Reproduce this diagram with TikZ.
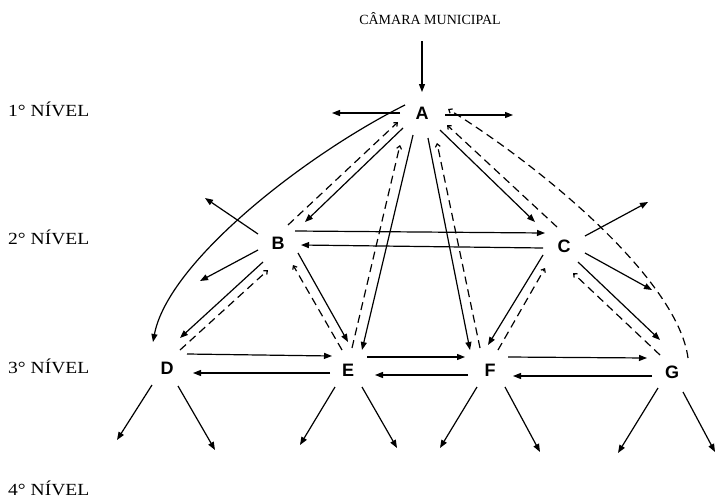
\documentclass[tikz,border=0pt]{standalone}
\usepackage{fontspec}
\setmainfont{Liberation Serif}
\newfontfamily\lettfont{Liberation Sans}
\usetikzlibrary{arrows.meta,calc}
\tikzset{
  letter/.style={font=\lettfont\bfseries\fontsize{18}{18}\selectfont, inner sep=0pt},
  level/.style={anchor=base west, inner sep=0pt, font=\fontsize{17}{17}\selectfont},
  sarr/.style={line width=1.2pt, -{Triangle[length=8pt,width=6pt]}},
  darr/.style={line width=1.2pt, dash pattern=on 8pt off 5pt, -{Straight Barb[length=3pt,width=5pt]}},
}
\begin{document}
\begin{tikzpicture}[x=1pt,y=-1pt]
\useasboundingbox (0,0) rectangle (717,498);
% nodes
\node[letter] (A) at (422,113) {A};
\node[letter] (B) at (278,243) {B};
\node[letter] (C) at (564,246) {C};
\node[letter] (D) at (167,368) {D};
\node[letter] (E) at (348,370) {E};
\node[letter] (F) at (490,370) {F};
\node[letter] (G) at (672,372) {G};
\node[inner sep=0pt, font=\fontsize{14}{14}\selectfont] (CM) at (430,19) {CÂMARA MUNICIPAL};
\node[level] (L1) at (8,116) {\scalebox{1.15}[1]{1° NÍVEL}};
\node[level] (L2) at (8,244) {\scalebox{1.15}[1]{2° NÍVEL}};
\node[level] (L3) at (8,373) {\scalebox{1.15}[1]{3° NÍVEL}};
\node[level] (L4) at (8,495) {\scalebox{1.15}[1]{4° NÍVEL}};
% from Camara to A
\draw[sarr] ($(A)+(0,-72)$) -- ($(A)+(0,-21)$);
% A stubs
\draw[sarr] ($(A)+(-22,0)$) -- ($(A)+(-90,0)$);
\draw[sarr] ($(A)+(23,2)$) -- ($(A)+(91,2)$);
% A - B
\draw[sarr] ($(A)+(-19,15)$) -- ($(B)+(27,-21)$);
\draw[darr] ($(B)+(10,-18)$) -- ($(A)+(-24,9)$);
% A - D curve
\draw[sarr] ($(A)+(-17,-8)$) .. controls (305,155) and (168,262) .. ($(D)+(-14,-26)$);
% A - C
\draw[sarr] ($(A)+(18,17)$) -- ($(C)+(-29,-24)$);
\draw[darr] ($(C)+(-7,-19)$) -- ($(A)+(25,12)$);
% A - G dashed curve
\draw[darr] ($(G)+(16,-14)$) .. controls (678,282) and (548,171) .. ($(A)+(26,-4)$);
% A - E
\draw[sarr] ($(A)+(-9,22)$) -- ($(E)+(14,-20)$);
\draw[darr] ($(E)+(4,-22)$) -- ($(A)+(-22,32)$);
% A - F
\draw[sarr] ($(A)+(6,25)$) -- ($(F)+(-20,-20)$);
\draw[darr] ($(F)+(-10,-22)$) -- ($(A)+(15,30)$);
% B stubs
\draw[sarr] ($(B)+(-20,-9)$) -- ($(B)+(-73,-45)$);
\draw[sarr] ($(B)+(-20,7)$) -- ($(B)+(-78,38)$);
% B - C
\draw[sarr] ($(B)+(17,-12)$) -- ($(C)+(-19,-13)$);
\draw[sarr] ($(C)+(-21,2)$) -- ($(B)+(23,2)$);
% B - D
\draw[sarr] ($(B)+(-15,19)$) -- ($(D)+(13,-30)$);
\draw[darr] ($(D)+(13,-18)$) -- ($(B)+(-10,27)$);
% B - E
\draw[sarr] ($(B)+(20,10)$) -- ($(E)+(0,-28)$);
\draw[darr] ($(E)+(-6,-20)$) -- ($(B)+(15,22)$);
% C stubs
\draw[sarr] ($(C)+(21,-10)$) -- ($(C)+(84,-44)$);
\draw[sarr] ($(C)+(21,7)$) -- ($(C)+(88,44)$);
% C - F
\draw[sarr] ($(C)+(-21,9)$) -- ($(F)+(-2,-25)$);
\draw[darr] ($(F)+(8,-20)$) -- ($(C)+(-19,22)$);
% C - G
\draw[sarr] ($(C)+(14,16)$) -- ($(G)+(-12,-32)$);
\draw[darr] ($(G)+(-12,-17)$) -- ($(C)+(9,27)$);
% third level horizontals
\draw[sarr] ($(D)+(20,-14)$) -- ($(E)+(-16,-14)$);
\draw[sarr] ($(E)+(-18,3)$) -- ($(D)+(26,5)$);
\draw[sarr] ($(E)+(19,-13)$) -- ($(F)+(-25,-13)$);
\draw[sarr] ($(F)+(-22,5)$) -- ($(E)+(27,5)$);
\draw[sarr] ($(F)+(18,-13)$) -- ($(G)+(-25,-14)$);
\draw[sarr] ($(G)+(-20,4)$) -- ($(F)+(23,6)$);
% down arrows
\draw[sarr] ($(D)+(-15,17)$) -- ($(D)+(-50,72)$);
\draw[sarr] ($(D)+(11,18)$) -- ($(D)+(48,82)$);
\draw[sarr] ($(E)+(-13,17)$) -- ($(E)+(-48,75)$);
\draw[sarr] ($(E)+(14,17)$) -- ($(E)+(49,78)$);
\draw[sarr] ($(F)+(-13,17)$) -- ($(F)+(-50,78)$);
\draw[sarr] ($(F)+(15,17)$) -- ($(F)+(50,82)$);
\draw[sarr] ($(G)+(-14,16)$) -- ($(G)+(-54,81)$);
\draw[sarr] ($(G)+(11,20)$) -- ($(G)+(43,80)$);
\end{tikzpicture}
\end{document}
